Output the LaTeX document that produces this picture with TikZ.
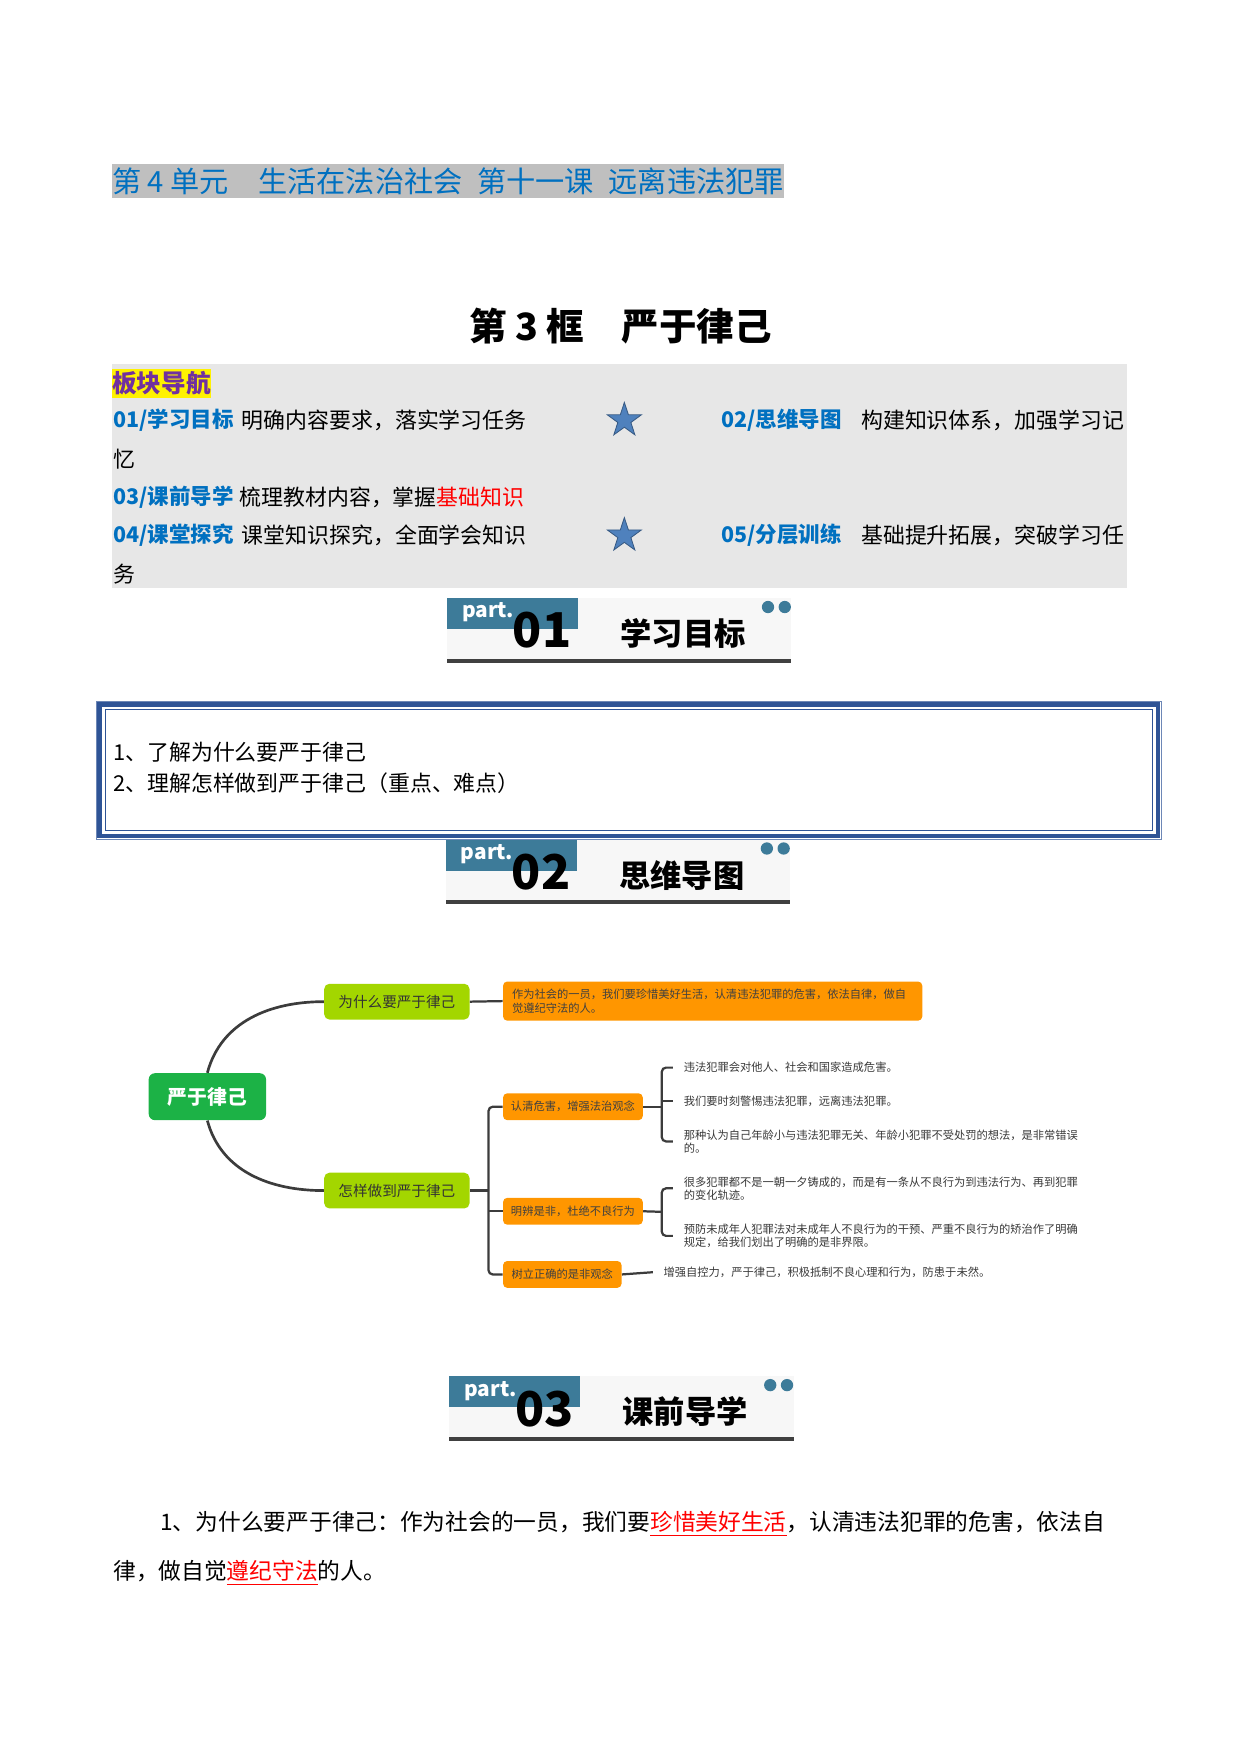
\documentclass[tikz,border=0pt]{standalone}
\usepackage{fontspec}
\setmainfont{Noto Sans CJK SC}
\usepackage{xcolor}
\usepackage{tikz}
\usetikzlibrary{shapes.geometric, positioning, calc}

\definecolor{titleblue}{RGB}{0,112,192}
\definecolor{titlegray}{RGB}{191,191,191}
\definecolor{navgray}{RGB}{231,231,231}
\definecolor{navpurple}{RGB}{112,48,160}
\definecolor{starblue}{RGB}{79,129,189}
\definecolor{bannerteal}{RGB}{61,123,153}
\definecolor{boxblue}{RGB}{47,84,150}
\definecolor{rootgreen}{RGB}{28,178,70}
\definecolor{topiclime}{RGB}{163,214,0}
\definecolor{leaforange}{RGB}{255,150,0}
\definecolor{linkgray}{RGB}{60,60,60}

\newlength\px
\setlength\px{0.536pt}
\newcommand\redul[1]{\textcolor{red}{\underline{#1}}}

\tikzset{
    bodytext/.style={anchor=west, inner sep=0pt, font=\fontsize{10.5}{12}\selectfont},
    navlabel/.style={bodytext, text=titleblue, font=\fontsize{10.3}{12}\selectfont\bfseries},
    navstar/.style={star, star points=5, star point ratio=2.6, minimum size=32*\px, inner sep=0pt,
        fill=starblue, draw=starblue!70!black, line width=0.4pt},
    partword/.style={anchor=west, inner sep=0pt, text=white, font=\fontsize{10}{12}\selectfont\bfseries},
    partnum/.style={inner sep=0pt, font=\fontsize{23}{25}\selectfont\bfseries},
    parttitle/.style={inner sep=0pt, font=\fontsize{15}{17}\selectfont\bfseries},
    rootbox/.style={fill=rootgreen, rounded corners=3pt, minimum width=105*\px, minimum height=42*\px,
        text=white, font=\fontsize{9.5}{11}\selectfont\bfseries},
    topicbox/.style={fill=topiclime, rounded corners=2.5pt, minimum width=130*\px, minimum height=32*\px,
        text=black!80, font=\fontsize{7}{8}\selectfont},
    leafbox/.style={fill=leaforange, rounded corners=2pt, minimum height=24*\px,
        text=black!75, font=\fontsize{5.4}{6.8}\selectfont},
    note/.style={anchor=west, inner xsep=9.3*\px, inner ysep=0pt, align=left,
        text=black!78, font=\fontsize{5.4}{6.3}\selectfont},
    link/.style={draw=linkgray, line width=2*\px},
}

\begin{document}
\begin{tikzpicture}[x=0.536pt, y=-0.536pt]
    \useasboundingbox (0,0) rectangle (1110,1569);

    % Headings
    \node[anchor=west, inner xsep=0pt, inner ysep=0pt, minimum height=30*\px, fill=titlegray, text=titleblue,
        font=\fontsize{14}{16}\selectfont] (unit) at (100,162)
        {第 4 单元\quad 生活在法治社会\hspace{0.5em}第十一课\hspace{0.5em}远离违法犯罪};
    \node[inner sep=0pt, font=\fontsize{18}{20}\selectfont\bfseries] (frame) at (555,292) {第 3 框\quad 严于律己};

    % Navigation
    \fill[navgray] (100,326) rectangle (1008,526);
    \node[bodytext, fill=yellow, minimum height=26*\px, text=navpurple, font=\fontsize{11.8}{13}\selectfont\bfseries]
        (nav) at (100,343) {板块导航};
    \node[navlabel] (nav1) at (101,376) {01/学习目标};
    \node[bodytext] (nav1t) at (216,376) {明确内容要求，落实学习任务};
    \node[navstar] (star1) at (558.5,376) {};
    \node[navlabel] (nav2) at (645,376) {02/思维导图};
    \node[bodytext] (nav2t) at (770,376) {构建知识体系，加强学习记};
    \node[bodytext] (nav2r) at (101,411) {忆};
    \node[navlabel] (nav3) at (101,445) {03/课前导学};
    \node[bodytext] (nav3t) at (214,445) {梳理教材内容，掌握\textcolor{red}{基础知识}};
    \node[navlabel] (nav4) at (101,479) {04/课堂探究};
    \node[bodytext] (nav4t) at (216,479) {课堂知识探究，全面学会知识};
    \node[navstar] (star2) at (558.5,479) {};
    \node[navlabel] (nav5) at (645,479) {05/分层训练};
    \node[bodytext] (nav5t) at (770,479) {基础提升拓展，突破学习任};
    \node[bodytext] (nav5r) at (101,514) {务};

    % Part banners
    \foreach \n/\bx/\by/\t in {01/400/535/学习目标, 02/399/751/思维导图, 03/402/1231/课前导学} {
        \fill[black!3] (\bx,\by) rectangle ++(308,55);
        \fill[bannerteal] (\bx,\by) rectangle ++(117,28);
        \draw[black!75, line width=3.5*\px] (\bx,\by+56) -- ++(308,0);
        \fill[bannerteal] (\bx+287,\by+8) circle (5.5);
        \fill[bannerteal] (\bx+302,\by+8) circle (5.5);
        \node[partword] (partword\n) at (\bx+13,\by+13) {part.};
        \node[partnum] (partnum\n) at (\bx+85,\by+29) {\n};
        \node[parttitle] (parttitle\n) at (\bx+211,\by+32) {\t};
    }

    % Goals
    \draw[boxblue!70, line width=0.6*\px] (86,627) rectangle (1039,751);
    \draw[boxblue, line width=4*\px] (89,630) rectangle (1036,748);
    \draw[boxblue, line width=0.8*\px] (94,635) rectangle (1031,743);
    \node[bodytext] (goal1) at (101,673) {1、了解为什么要严于律己};
    \node[bodytext] (goal2) at (101,701) {2、理解怎样做到严于律己（重点、难点）};

    % Mind map
    \node[rootbox] (root) at (185.5,981) {严于律己};
    \node[topicbox] (why) at (355,896) {为什么要严于律己};
    \node[topicbox] (how) at (355,1065) {怎样做到严于律己};
    \node[leafbox, minimum width=375*\px, minimum height=35*\px, inner xsep=8*\px, text width=359*\px, align=left]
        (whyNote) at (637.5,895.5)
        {作为社会的一员，我们要珍惜美好生活，认清违法犯罪的危害，依法自律，做自\\觉遵纪守法的人。};
    \node[leafbox, minimum width=125*\px] (harm) at (512.5,990) {认清危害，增强法治观念};
    \node[leafbox, minimum width=125*\px] (judge) at (512.5,1083.5) {明辨是非，杜绝不良行为};
    \node[leafbox, minimum width=106*\px] (view) at (503,1140) {树立正确的是非观念};

    \node[note] (harmA) at (602,955) {违法犯罪会对他人、社会和国家造成危害。};
    \node[note] (harmB) at (602,985) {我们要时刻警惕违法犯罪，远离违法犯罪。};
    \node[note] (harmC) at (602,1021)
        {那种认为自己年龄小与违法犯罪无关、年龄小犯罪不受处罚的想法，是非常错误\\的。};
    \node[note] (judgeA) at (602,1063)
        {很多犯罪都不是一朝一夕铸成的，而是有一条从不良行为到违法行为、再到犯罪\\的变化轨迹。};
    \node[note] (judgeB) at (602,1105.5)
        {预防未成年人犯罪法对未成年人不良行为的干预、严重不良行为的矫治作了明确\\规定，给我们划出了明确的是非界限。};
    \node[note] (viewNote) at (584,1138) {增强自控力，严于律己，积极抵制不良心理和行为，防患于未然。};

    \coordinate (trunk) at (437,1065);
    \coordinate (harmbr) at (592,990);
    \coordinate (judgebr) at (592,1084);

    \draw[link, line width=2.4*\px] (root.north) to[out=75, in=180] (why.west);
    \draw[link, line width=2.4*\px] (root.south) to[out=-75, in=180] (how.west);
    \draw[link] (why.east) -- (whyNote.west);
    \draw[link] (how.east) -- (trunk);
    \draw[link, rounded corners=2pt] (harm.west) -| (trunk) |- (view.west);
    \draw[link] (judge.west) -- (judge.west -| trunk);
    \draw[link] (harm.east) -- (harmbr);
    \draw[link, rounded corners=2pt] (harmA.west) -| (harmbr) |- (harmC.west);
    \draw[link] (harmbr |- harmB.west) -- (harmB.west);
    \draw[link] (judge.east) -- (judgebr);
    \draw[link, rounded corners=2pt] (judgeA.west) -| (judgebr) |- (judgeB.west);
    \draw[link] (view.east) -- (viewNote.west);

    % Preview text
    \node[bodytext, font=\fontsize{10.9}{12}\selectfont] (introA) at (143,1363)
        {1、为什么要严于律己：作为社会的一员，我们要\redul{珍惜美好生活}，认清违法犯罪的危害，依法自};
    \node[bodytext, font=\fontsize{10.9}{12}\selectfont] (introB) at (101,1407)
        {律，做自觉\redul{遵纪守法}的人。};
\end{tikzpicture}
\end{document}
